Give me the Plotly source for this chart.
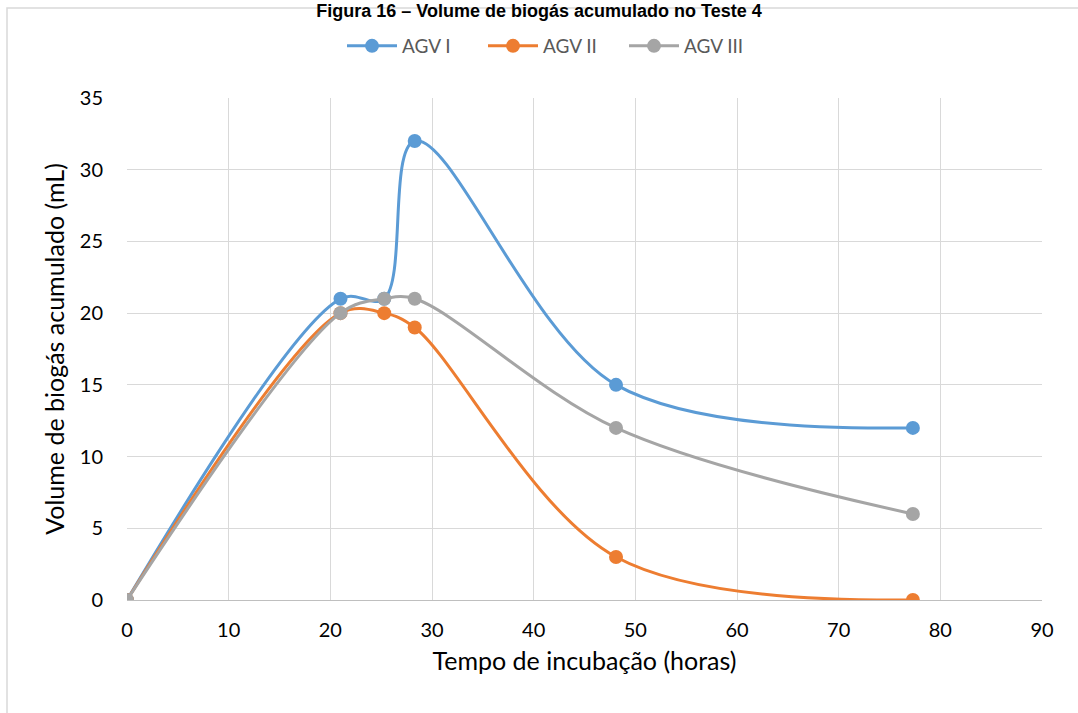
import plotly.graph_objects as go

x_hours = [0, 21, 25.3, 28.3, 48.1, 77.3]
agv_i = [0, 21, 21, 32, 15, 12]
agv_ii = [0, 20, 20, 19, 3, 0]
agv_iii = [0, 20, 21, 21, 12, 6]

series = [("AGV I", agv_i, "#5B9BD5"), ("AGV II", agv_ii, "#ED7D31"), ("AGV III", agv_iii, "#A5A5A5")]

fig = go.Figure()
for name, vals, col in series:
    fig.add_trace(go.Scatter(
        x=x_hours, y=vals, name=name, mode="lines+markers",
        line=dict(color=col, width=3, shape="spline", smoothing=1.0),
        marker=dict(color=col, size=14),
    ))

W, H = 1078, 713
L, R, T, B = 127, 36, 98, 113
pw, ph = W - L - R, H - T - B

fig.add_shape(type="rect", xref="paper", yref="paper",
              x0=(7 - L) / pw, x1=(W + 20 - L) / pw,
              y0=-(H + 20 - T - ph) / ph, y1=1 + (T - 8) / ph,
              line=dict(color="#D9D9D9", width=1.5), fillcolor="rgba(0,0,0,0)", layer="below")

font = "Lato, Liberation Sans, sans-serif"
fig.update_layout(
    width=W, height=H,
    margin=dict(l=L, r=R, t=T, b=B),
    paper_bgcolor="white", plot_bgcolor="white",
    title=dict(text="<b>Figura 16 – Volume de biogás acumulado no Teste 4</b>",
               x=0.5, xanchor="center", y=1.0, yref="container", yanchor="top",
               pad=dict(t=4, b=0),
               font=dict(family="Liberation Sans, Arial, sans-serif", size=18, color="black")),
    legend=dict(orientation="h", x=0.5 - 31 / pw, xanchor="center", y=1 + (T - 46) / ph, yanchor="middle",
                font=dict(family=font, size=19, color="#595959"), itemwidth=50,
                entrywidth=76, entrywidthmode="pixels",
                bgcolor="rgba(0,0,0,0)"),
    font=dict(family=font, size=20, color="black"),
    xaxis=dict(range=[0, 90], dtick=10, showgrid=True, gridcolor="#D9D9D9", gridwidth=1.3,
               showline=True, linecolor="#BFBFBF", linewidth=1.3, zeroline=False,
               ticks="", ticklen=0, tickfont=dict(size=20), ticklabelstandoff=12,
               title=dict(text="Tempo de incubação (horas)", font=dict(size=25), standoff=12)),
    yaxis=dict(range=[0, 35], dtick=5, showgrid=True, gridcolor="#D9D9D9", gridwidth=1.3,
               showline=False, zeroline=False, ticks="", tickfont=dict(size=20),
               ticklabelstandoff=23,
               title=dict(text="Volume de biogás acumulado (mL)", font=dict(size=25), standoff=8)),
    showlegend=True,
)

fig.write_html("out.html")
